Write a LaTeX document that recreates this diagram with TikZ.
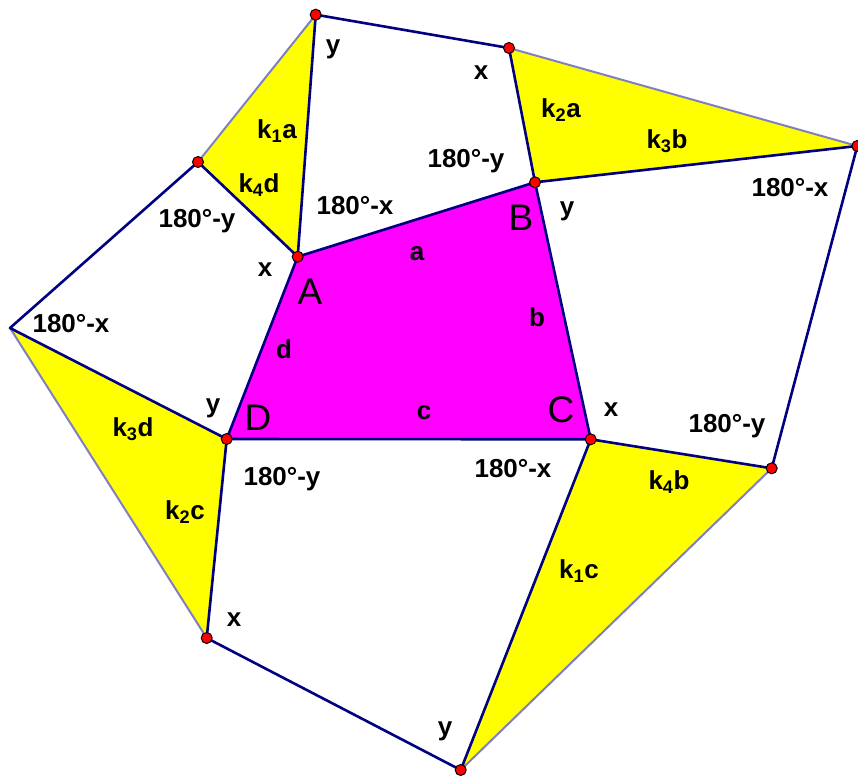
\documentclass[tikz,border=0pt]{standalone}
\usepackage{fontspec}
\setmainfont{Liberation Sans}
\usetikzlibrary{positioning}
\definecolor{edgeblue}{RGB}{0,0,128}
\definecolor{rimgray}{RGB}{128,128,192}
\definecolor{quadfill}{RGB}{255,0,255}
\definecolor{trifill}{RGB}{255,255,0}
\tikzstyle{edge} = [draw=edgeblue, line width=2.6pt, line join=round, line cap=round]
\tikzstyle{rim} = [draw=rimgray, line width=2pt, line cap=round]
\tikzstyle{dot} = [circle, fill=red, draw=black, line width=1pt, minimum size=11pt, inner sep=0pt]
\tikzstyle{angle} = [inner sep=0pt, font=\fontsize{26}{26}\selectfont\bfseries]
\tikzstyle{vertex} = [inner sep=0pt, font=\fontsize{37}{37}\selectfont]
\newcommand{\kpart}[2]{k\textsubscript{#1}#2}

\begin{document}
\begin{tikzpicture}[x=1pt, y=-1pt]
    \useasboundingbox (0,0) rectangle (858,776);
    % corner points
    \coordinate (A) at (297.7,256.7);
    \coordinate (B) at (535,182.3);
    \coordinate (C) at (590.7,439.3);
    \coordinate (D) at (226.7,439);
    \coordinate (Atop) at (315.7,14.7);
    \coordinate (Aleft) at (198,162);
    \coordinate (Btop) at (509,48);
    \coordinate (Bright) at (857.3,146);
    \coordinate (Cright) at (771.7,468.3);
    \coordinate (Cbot) at (460.7,770);
    \coordinate (Dbot) at (206.7,638);
    \coordinate (Dleft) at (10,328);

    % fills
    \fill[quadfill] (A) -- (B) -- (C) -- (D) -- cycle;
    \fill[trifill] (A) -- (Atop) -- (Aleft) -- cycle;
    \fill[trifill] (B) -- (Btop) -- (Bright) -- cycle;
    \fill[trifill] (C) -- (Cright) -- (Cbot) -- cycle;
    \fill[trifill] (D) -- (Dbot) -- (Dleft) -- cycle;

    % outer rims of the yellow triangles
    \draw[rim] (Atop) -- (Aleft);
    \draw[rim] (Btop) -- (Bright);
    \draw[rim] (Cright) -- (Cbot);
    \draw[rim] (Dbot) -- (Dleft);

    % edges
    \draw[edge] (A) -- (B) -- (C) -- (D) -- cycle;
    \draw[edge] (Aleft) -- (A) -- (Atop) -- (Btop) -- (B) -- (Bright) -- (Cright) -- (C)
        -- (Cbot) -- (Dbot) -- (D) -- (Dleft) -- (Aleft);

    % points
    \foreach \p in {A,B,C,D,Atop,Aleft,Btop,Bright,Cright,Cbot,Dbot}
        \node[dot] at (\p) {};

    % vertex names
    \node[vertex] (nameA) at (310,292) {A};
    \node[vertex] (nameB) at (521,218) {B};
    \node[vertex] (nameC) at (561,410) {C};
    \node[vertex] (nameD) at (258,418) {D};

    % sides
    \node[angle] (sideA) at (417,254) {a};
    \node[angle] (sideB) at (537,317) {b};
    \node[angle] (sideC) at (424,413) {c};
    \node[angle] (sideD) at (284,349) {d};

    % triangle sides
    \node[angle] (kOneA) at (277,131) {\kpart{1}{a}};
    \node[angle] (kFourD) at (259,185) {\kpart{4}{d}};
    \node[angle] (kTwoA) at (561,110) {\kpart{2}{a}};
    \node[angle] (kThreeB) at (667,141) {\kpart{3}{b}};
    \node[angle] (kFourB) at (669,482) {\kpart{4}{b}};
    \node[angle] (kOneC) at (579,571) {\kpart{1}{c}};
    \node[angle] (kThreeD) at (133,429) {\kpart{3}{d}};
    \node[angle] (kTwoC) at (185,512) {\kpart{2}{c}};

    % angles
    \node[angle] (yAtop) at (333,49) {y};
    \node[angle] (xBtop) at (481,73) {x};
    \node[angle] (yB) at (567,211) {y};
    \node[angle] (xA) at (265,270) {x};
    \node[angle] (yD) at (213,408) {y};
    \node[angle] (xC) at (611,410) {x};
    \node[angle] (xDbot) at (234,620) {x};
    \node[angle] (yCbot) at (445,731) {y};
    \node[angle] (supB) at (466,161) {180°-y};
    \node[angle] (supBright) at (790,188) {180°-x};
    \node[angle] (supAleft) at (197,221) {180°-y};
    \node[angle] (supA) at (355,206) {180°-x};
    \node[angle] (supDleft) at (71,324) {180°-x};
    \node[angle] (supCright) at (727,426) {180°-y};
    \node[angle] (supD) at (282,479) {180°-y};
    \node[angle] (supC) at (513,469) {180°-x};
\end{tikzpicture}
\end{document}
